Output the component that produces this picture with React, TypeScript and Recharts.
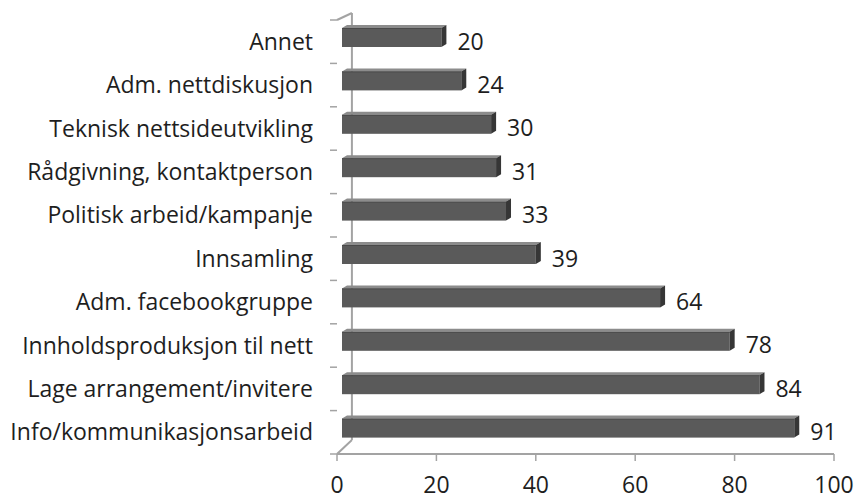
import React from 'react';
import * as R from 'recharts';
import { BarChart, Bar, XAxis, YAxis, LabelList } from 'recharts';

const categories = [
  'Annet',
  'Adm. nettdiskusjon',
  'Teknisk nettsideutvikling',
  'Rådgivning, kontaktperson',
  'Politisk arbeid/kampanje',
  'Innsamling',
  'Adm. facebookgruppe',
  'Innholdsproduksjon til nett',
  'Lage arrangement/invitere',
  'Info/kommunikasjonsarbeid',
];
const values = [20, 24, 30, 31, 33, 39, 64, 78, 84, 91];
const xTicks = [0, 20, 40, 60, 80, 100];
const X_MAX = 100;

const data = categories.map((name, i) => ({ name, value: values[i] }));

const CHART_W = 860;
const CHART_H = 500;
const MARGIN = { top: 20, right: 26, bottom: 0, left: 0 };
const FONT = '"Open Sans", sans-serif';
const AXIS = '#a3a3a3';
const TEXT = '#1e1e1e';

function Bar3D(props: any) {
  const { x, y, width, height } = props;
  if (width == null || height == null) return null;
  const dx = 5;
  const up = 4;
  const d = 5;
  const dv = 3;
  const fx = x + dx;
  const fy = y - up;
  const fw = Math.max(0, width);
  const fh = height;
  return (
    <g>
      <polygon
        points={`${fx},${fy} ${fx + fw},${fy} ${fx + fw + d},${fy - dv} ${fx + d},${fy - dv}`}
        fill="#8c8c8c"
      />
      <rect x={fx} y={fy} width={fw} height={fh} fill="#5a5a5a" />
      <line x1={fx} y1={fy + 0.5} x2={fx + fw} y2={fy + 0.5} stroke="#4a4a4a" strokeWidth={1} />
      <polygon
        points={`${fx + fw},${fy} ${fx + fw + d},${fy - dv} ${fx + fw + d},${fy + fh - dv} ${fx + fw},${fy + fh}`}
        fill="#363636"
      />
    </g>
  );
}

// 3D wall outline and category-boundary tick stubs, derived from the plot area
function WallFrame() {
  const anyR = R as any;
  let area: any = null;
  if (anyR.usePlotArea) {
    area = anyR.usePlotArea();
  } else if (anyR.useOffset) {
    const off = anyR.useOffset();
    if (off) {
      area = {
        x: off.left,
        y: off.top,
        width: CHART_W - off.left - off.right,
        height: CHART_H - off.top - off.bottom,
      };
    }
  }
  if (!area) return null;
  const { x, y, width, height } = area;
  const depthX = (width * 3) / X_MAX;
  const bottom = y + height;
  const n = categories.length;
  const stubs = [];
  for (let i = 0; i <= n; i++) {
    const ty = y + (height * i) / n;
    stubs.push(<line key={'y' + i} x1={x - 7} y1={ty} x2={x} y2={ty} stroke={AXIS} strokeWidth={1.5} />);
  }
  return (
    <g>
      <line x1={x} y1={bottom} x2={x + depthX} y2={bottom - 14} stroke={AXIS} strokeWidth={2} />
      <line x1={x + depthX} y1={bottom - 14} x2={x + depthX} y2={y - 7} stroke={AXIS} strokeWidth={2} />
      <line x1={x} y1={y} x2={x + depthX} y2={y - 7} stroke={AXIS} strokeWidth={2} />
      {stubs}
    </g>
  );
}

export default function App() {
  return (
    <div style={{ position: 'absolute', left: 0, top: 0, width: CHART_W, height: CHART_H, background: '#fff' }}>
      <BarChart
        width={CHART_W}
        height={CHART_H}
        data={data}
        layout="vertical"
        margin={MARGIN}
        barCategoryGap={0}
      >
        <XAxis
          type="number"
          domain={[0, X_MAX]}
          ticks={xTicks}
          height={46}
          tickSize={7}
          tickMargin={16}
          stroke={AXIS}
          axisLine={{ stroke: AXIS, strokeWidth: 2 }}
          tickLine={{ stroke: AXIS, strokeWidth: 1.5 }}
          tick={{ fill: TEXT, fontSize: 23, fontFamily: FONT }}
          interval={0}
        />
        <YAxis
          type="category"
          dataKey="name"
          width={337}
          tickSize={0}
          tickMargin={24}
          axisLine={false}
          tickLine={false}
          interval={0}
          tick={{ fill: TEXT, fontSize: 23, fontFamily: FONT }}
        />
        <WallFrame />
        <Bar dataKey="value" barSize={19} isAnimationActive={false} shape={(p: any) => <Bar3D {...p} />}>
          <LabelList
            dataKey="value"
            position="right"
            offset={21}
            fill={TEXT}
            fontSize={23}
            fontFamily={FONT}
          />
        </Bar>
      </BarChart>
    </div>
  );
}
